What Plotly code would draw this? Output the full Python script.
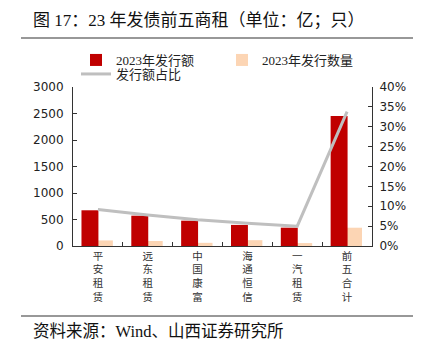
import plotly.graph_objects as go

categories = ["平安租赁", "远东租赁", "中国康富", "海通恒信", "一汽租赁", "前五合计"]
amount = [674, 572, 478, 398, 346, 2455]          # 2023年发行额 (亿)
count = [105, 95, 60, 110, 55, 345]               # 2023年发行数量 (只)
share = [0.092, 0.078, 0.066, 0.057, 0.050, 0.338]  # 发行额占比
left_ticks = [0, 500, 1000, 1500, 2000, 2500, 3000]

tick_text = ["<br>".join(list(c)) for c in categories]

W, H = 423, 351
L, R, T, B = 73, 372, 87, 246

def px_x(p):
    return (p - L) / (R - L)

def px_y(p):
    return (B - p) / (B - T)

CJK = "Liberation Serif, Noto Sans CJK SC, sans-serif"
NUM = "DejaVu Sans, Verdana, sans-serif"

fig = go.Figure()
fig.add_trace(go.Bar(
    x=categories, y=count, name="2023年发行数量",
    marker=dict(color="#FCD5B4", line=dict(width=0)),
    width=0.34, offset=-0.04, legendrank=2,
))
fig.add_trace(go.Bar(
    x=categories, y=amount, name="2023年发行额",
    marker=dict(color="#C00000", line=dict(width=0)),
    width=0.34, offset=-0.33, legendrank=1,
))
fig.add_trace(go.Scatter(
    x=categories, y=share, name="发行额占比", yaxis="y2", legend="legend2",
    mode="lines", line=dict(color="#BFBFBF", width=3),
))

legend_common = dict(
    orientation="h", xanchor="left", yanchor="top",
    font=dict(family=CJK, size=13, color="#222"),
    bgcolor="rgba(0,0,0,0)", tracegroupgap=0, itemwidth=30,
)

fig.update_layout(
    width=W, height=H,
    margin=dict(l=L, r=W - R, t=T, b=H - B),
    paper_bgcolor="white", plot_bgcolor="white",
    barmode="overlay",
    showlegend=True,
    legend=dict(x=px_x(76), y=px_y(45), entrywidth=101, entrywidthmode="pixels",
                **legend_common),
    legend2=dict(x=px_x(76), y=px_y(59), **legend_common),
    xaxis=dict(
        type="category", tickmode="array", tickvals=categories, ticktext=tick_text,
        showline=True, linecolor="#333", linewidth=1,
        ticks="inside", ticklen=4, tickcolor="#333", tickson="boundaries",
        tickfont=dict(family="Noto Sans CJK SC", size=10.5, color="#333"),
        showgrid=False, zeroline=False, range=[-0.5, 5.5],
    ),
    yaxis=dict(
        range=[0, 3000], tickvals=left_ticks, showline=True, linecolor="#333", linewidth=1,
        ticks="inside", ticklen=4, tickcolor="#333", showgrid=False, zeroline=False,
        tickfont=dict(family=NUM, size=12, color="#222"), ticklabelstandoff=6,
    ),
    yaxis2=dict(
        overlaying="y", side="right", range=[0, 0.4], dtick=0.05, tickformat=".0%",
        showline=True, linecolor="#333", linewidth=1, ticks="inside", ticklen=4,
        tickcolor="#333", showgrid=False, zeroline=False,
        tickfont=dict(family=NUM, size=12, color="#222"), ticklabelstandoff=4,
    ),
)

fig.add_annotation(
    text="图 17：23 年发债前五商租（单位：亿；只）", xref="paper", yref="paper",
    x=px_x(31), y=px_y(20), xanchor="left", yanchor="middle", showarrow=False,
    font=dict(family=CJK, size=17, color="#111"),
)
fig.add_annotation(
    text="资料来源：Wind、山西证券研究所", xref="paper", yref="paper",
    x=px_x(31), y=px_y(331), xanchor="left", yanchor="middle", showarrow=False,
    font=dict(family=CJK, size=16.5, color="#111"),
)
for yy in (38, 316):
    fig.add_shape(type="line", xref="paper", yref="paper",
                  x0=px_x(21), x1=px_x(413), y0=px_y(yy), y1=px_y(yy),
                  line=dict(color="#333", width=1.2))

fig.write_html("out.html")
